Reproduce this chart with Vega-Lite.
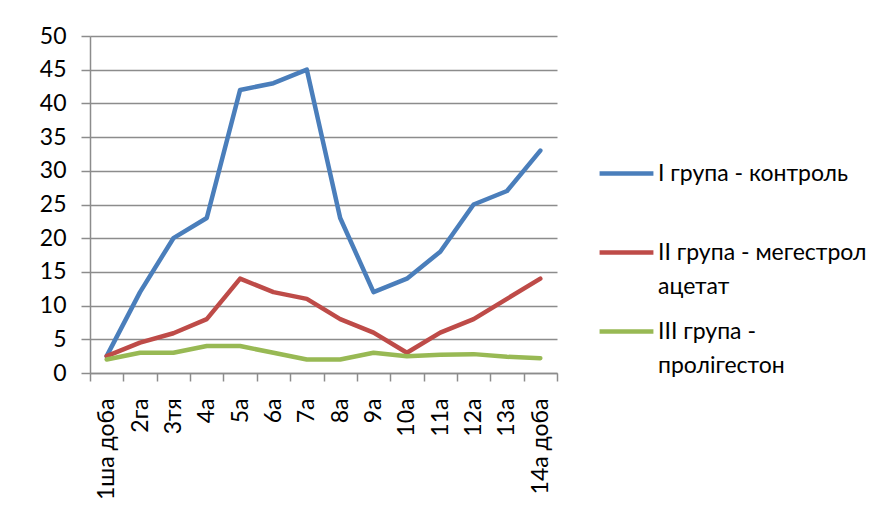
{
  "$schema": "https://vega.github.io/schema/vega-lite/v6.json",
  "width": 467,
  "height": 337,
  "autosize": "none",
  "padding": {"left": 90, "top": 36, "right": 333, "bottom": 156},
  "background": "white",
  "data": {
    "values": [
      {"day": "1ша доба", "group": "I група - контроль", "value": 2.5},
      {"day": "2га", "group": "I група - контроль", "value": 12},
      {"day": "3тя", "group": "I група - контроль", "value": 20},
      {"day": "4а", "group": "I група - контроль", "value": 23},
      {"day": "5а", "group": "I група - контроль", "value": 42},
      {"day": "6а", "group": "I група - контроль", "value": 43},
      {"day": "7а", "group": "I група - контроль", "value": 45},
      {"day": "8а", "group": "I група - контроль", "value": 23},
      {"day": "9а", "group": "I група - контроль", "value": 12},
      {"day": "10а", "group": "I група - контроль", "value": 14},
      {"day": "11а", "group": "I група - контроль", "value": 18},
      {"day": "12а", "group": "I група - контроль", "value": 25},
      {"day": "13а", "group": "I група - контроль", "value": 27},
      {"day": "14а доба", "group": "I група - контроль", "value": 33},
      {"day": "1ша доба", "group": "II група - мегестрол ацетат", "value": 2.5},
      {"day": "2га", "group": "II група - мегестрол ацетат", "value": 4.5},
      {"day": "3тя", "group": "II група - мегестрол ацетат", "value": 5.9},
      {"day": "4а", "group": "II група - мегестрол ацетат", "value": 8},
      {"day": "5а", "group": "II група - мегестрол ацетат", "value": 14},
      {"day": "6а", "group": "II група - мегестрол ацетат", "value": 12},
      {"day": "7а", "group": "II група - мегестрол ацетат", "value": 11},
      {"day": "8а", "group": "II група - мегестрол ацетат", "value": 8},
      {"day": "9а", "group": "II група - мегестрол ацетат", "value": 6},
      {"day": "10а", "group": "II група - мегестрол ацетат", "value": 3},
      {"day": "11а", "group": "II група - мегестрол ацетат", "value": 6},
      {"day": "12а", "group": "II група - мегестрол ацетат", "value": 8},
      {"day": "13а", "group": "II група - мегестрол ацетат", "value": 11},
      {"day": "14а доба", "group": "II група - мегестрол ацетат", "value": 14},
      {"day": "1ша доба", "group": "III група - пролігестон", "value": 2},
      {"day": "2га", "group": "III група - пролігестон", "value": 3},
      {"day": "3тя", "group": "III група - пролігестон", "value": 3},
      {"day": "4а", "group": "III група - пролігестон", "value": 4},
      {"day": "5а", "group": "III група - пролігестон", "value": 4},
      {"day": "6а", "group": "III група - пролігестон", "value": 3},
      {"day": "7а", "group": "III група - пролігестон", "value": 2},
      {"day": "8а", "group": "III група - пролігестон", "value": 2},
      {"day": "9а", "group": "III група - пролігестон", "value": 3},
      {"day": "10а", "group": "III група - пролігестон", "value": 2.5},
      {"day": "11а", "group": "III група - пролігестон", "value": 2.7},
      {"day": "12а", "group": "III група - пролігестон", "value": 2.8},
      {"day": "13а", "group": "III група - пролігестон", "value": 2.4},
      {"day": "14а доба", "group": "III група - пролігестон", "value": 2.2}
    ]
  },
  "mark": {"type": "line", "strokeWidth": 4.5, "strokeJoin": "round", "strokeCap": "round"},
  "encoding": {
    "x": {
      "field": "day",
      "type": "ordinal",
      "sort": ["1ша доба", "2га", "3тя", "4а", "5а", "6а", "7а", "8а", "9а", "10а", "11а", "12а", "13а", "14а доба"],
      "scale": {"paddingInner": 0, "paddingOuter": 0},
      "axis": {
        "title": null,
        "labelAngle": -90,
        "labelAlign": "right",
        "labelBaseline": "middle",
        "labelPadding": 17,
        "tickBand": "extent",
        "tickSize": 8,
        "tickColor": "#8c8c8c",
        "tickWidth": 1.5,
        "domainColor": "#8c8c8c",
        "domainWidth": 1.5,
        "grid": false
      }
    },
    "y": {
      "field": "value",
      "type": "quantitative",
      "scale": {"domain": [0, 50], "nice": false, "zero": true},
      "axis": {
        "title": null,
        "values": [0, 5, 10, 15, 20, 25, 30, 35, 40, 45, 50],
        "tickSize": 9,
        "tickColor": "#8c8c8c",
        "tickWidth": 1.5,
        "labelPadding": 15,
        "domainColor": "#8c8c8c",
        "domainWidth": 1.5,
        "grid": true,
        "gridColor": "#8c8c8c",
        "gridWidth": 1.5,
        "gridOpacity": 1
      }
    },
    "color": {
      "field": "group",
      "type": "nominal",
      "scale": {
        "domain": ["I група - контроль", "II група - мегестрол ацетат", "III група - пролігестон"],
        "range": ["#4A7EBB", "#BE4B48", "#98B954"]
      },
      "legend": {
        "title": null,
        "orient": "none",
        "legendX": 507,
        "legendY": 108,
        "padding": 0,
        "symbolType": "stroke",
        "symbolSize": 2900,
        "symbolStrokeWidth": 4.5,
        "labelOffset": 2,
        "labelLimit": 400,
        "labelFontSize": 23,
        "labelColor": "black",
        "labelFont": "Lato",
        "rowPadding": 3,
        "labelExpr": "datum.label == 'II група - мегестрол ацетат' ? ['II група - мегестрол', 'ацетат'] : datum.label == 'III група - пролігестон' ? ['III група -', 'пролігестон'] : [datum.label, ' ']"
      }
    }
  },
  "config": {
    "view": {"stroke": null},
    "font": "Lato",
    "axis": {"labelFont": "Lato", "labelFontSize": 23, "labelColor": "black"},
    "style": {"guide-label": {"lineHeight": 34}}
  }
}
